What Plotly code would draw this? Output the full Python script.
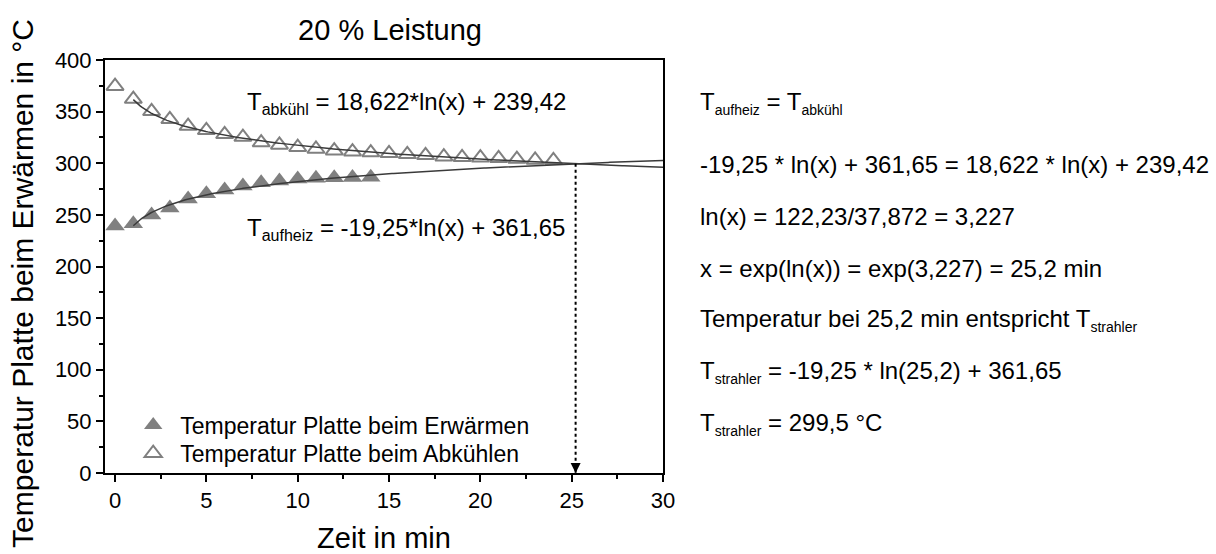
import numpy as np
import plotly.graph_objects as go

# Measured plate temperatures (°C) over time (min)
t_heat = [0, 1, 2, 3, 4, 5, 6, 7, 8, 9, 10, 11, 12, 13, 14]
T_heat = [239.2, 241.5, 249.9, 256.7, 265.4, 270.5, 274.1, 278.0, 281.2, 282.8,
          284.7, 285.4, 286.0, 286.3, 286.4]

t_cool = list(range(0, 25))
T_cool = [374.6, 362.2, 350.3, 342.6, 336.0, 331.9, 328.0, 325.4, 320.0, 317.7,
          315.5, 313.8, 312.2, 311.2, 310.3, 309.6, 308.7, 307.7, 306.4, 305.7,
          305.4, 304.8, 304.1, 303.2, 302.8]

# Logarithmic fit coefficients: T = a*ln(x) + b
a_up, b_up = 18.622, 239.42
a_down, b_down = -19.25, 361.65

x_ticks = [0, 5, 10, 15, 20, 25, 30]
y_ticks = [0, 50, 100, 150, 200, 250, 300, 350, 400]

FONT = "Liberation Sans, Arial, sans-serif"
GRAY = "#808080"
LINE = "#3a3a3a"


def sub(s, px):
    return f'<sub><span style="font-size:{px}px">{s}</span></sub>'


# Fit curves from x=1 to 30
xf = np.linspace(1, 30, 300)
y_up = a_up * np.log(xf) + b_up
y_down = a_down * np.log(xf) + b_down

# Intersection of both fits
x_cross = np.exp((b_down - b_up) / (a_up - a_down))
T_cross = a_down * np.log(x_cross) + b_down

fig = go.Figure()

fig.add_trace(go.Scatter(x=t_heat, y=T_heat, mode="markers",
                         name="Temperatur Platte beim Erwärmen", legend="legend",
                         marker=dict(symbol="triangle-up", size=17, color=GRAY,
                                     line=dict(width=0))))
fig.add_trace(go.Scatter(x=t_cool, y=T_cool, mode="markers",
                         name="Temperatur Platte beim Abkühlen", legend="legend2",
                         marker=dict(symbol="triangle-up-open", size=15, color=GRAY,
                                     line=dict(width=2, color=GRAY))))

fig.add_trace(go.Scatter(x=xf, y=y_up, mode="lines", line=dict(color=LINE, width=1.5),
                         showlegend=False, hoverinfo="skip"))
fig.add_trace(go.Scatter(x=xf, y=y_down, mode="lines", line=dict(color=LINE, width=1.5),
                         showlegend=False, hoverinfo="skip"))

# Dotted drop line from the intersection down to the time axis
fig.add_trace(go.Scatter(x=[x_cross, x_cross], y=[T_cross, 0], mode="lines",
                         line=dict(color="black", width=2, dash="dot"),
                         showlegend=False, hoverinfo="skip"))

ann = []
ann.append(dict(x=x_cross, y=0, xref="x", yref="y", ax=0, ay=-10, text="",
                showarrow=True, arrowhead=2, arrowsize=1, arrowwidth=2,
                arrowcolor="black"))
ann.append(dict(x=7.1, y=358, xref="x", yref="y", xanchor="left", yanchor="middle",
                text="T" + sub("abkühl", 16) + " = 18,622*ln(x) + 239,42", showarrow=False,
                font=dict(family=FONT, size=24, color="black")))
ann.append(dict(x=7.1, y=236, xref="x", yref="y", xanchor="left", yanchor="middle",
                text="T" + sub("aufheiz", 16) + " = -19,25*ln(x) + 361,65", showarrow=False,
                font=dict(family=FONT, size=24, color="black")))

# Vertical axis title
ann.append(dict(x=-0.149, y=0.46, xref="paper", yref="paper", xanchor="center",
                yanchor="middle", textangle=-90, showarrow=False,
                text="Temperatur Platte beim Erwärmen in °C",
                font=dict(family=FONT, size=30, color="black")))

right_lines = [
    "T" + sub("aufheiz", 14) + " = T" + sub("abkühl", 14),
    "-19,25 * ln(x) + 361,65 = 18,622 * ln(x) + 239,42",
    "ln(x) = 122,23/37,872 = 3,227",
    "x = exp(ln(x)) = exp(3,227) = 25,2 min",
    "Temperatur bei 25,2 min entspricht T" + sub("strahler", 14),
    "T" + sub("strahler", 14) + " = -19,25 * ln(25,2) + 361,65",
    "T" + sub("strahler", 14) + " = 299,5 °C",
]
y_lines = [0.895, 0.748, 0.622, 0.496, 0.370, 0.244, 0.118]
for txt, yy in zip(right_lines, y_lines):
    ann.append(dict(x=1.063, y=yy, xref="paper", yref="paper", xanchor="left",
                    yanchor="middle", text=txt, showarrow=False,
                    font=dict(family=FONT, size=24, color="black")))

legend_style = dict(x=0.038, xanchor="left", yanchor="middle",
                    bgcolor="rgba(0,0,0,0)", font=dict(family=FONT, size=23),
                    itemwidth=44)

fig.update_layout(
    width=1216, height=554,
    margin=dict(l=105, r=553, t=60, b=81),
    paper_bgcolor="white", plot_bgcolor="white",
    font=dict(family=FONT, color="black"),
    title=dict(text="20 % Leistung", x=390 / 1216, xanchor="center",
               y=1 - 30 / 554, yanchor="middle", font=dict(family=FONT, size=29)),
    annotations=ann,
    legend=dict(y=0.116, **legend_style),
    legend2=dict(y=0.048, **legend_style),
)

fig.update_xaxes(range=[-0.55, 30], tickvals=x_ticks, ticks="outside", ticklen=7,
                 tickwidth=1.5, tickcolor="black", automargin=False,
                 minor=dict(dtick=2.5, tick0=0, ticks="outside", ticklen=4,
                            tickcolor="black", tickwidth=1.5),
                 showline=True, linecolor="black", linewidth=2, mirror=True,
                 showgrid=False, zeroline=False,
                 tickfont=dict(family=FONT, size=22),
                 title=dict(text="Zeit in min", font=dict(family=FONT, size=29),
                            standoff=17))
fig.update_yaxes(range=[0, 400], tickvals=y_ticks, ticks="outside", ticklen=7,
                 tickwidth=1.5, tickcolor="black", automargin=False,
                 minor=dict(dtick=25, tick0=0, ticks="outside", ticklen=4,
                            tickcolor="black", tickwidth=1.5),
                 showline=True, linecolor="black", linewidth=2, mirror=True,
                 showgrid=False, zeroline=False,
                 tickfont=dict(family=FONT, size=22))

fig.write_html("out.html")
